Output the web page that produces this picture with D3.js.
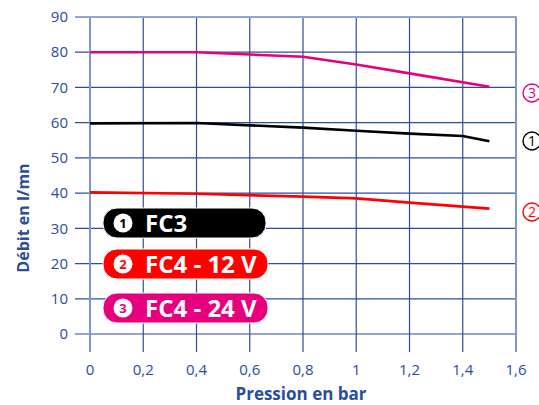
<!DOCTYPE html>
<html><head><meta charset="utf-8">
<script src="https://cdn.jsdelivr.net/npm/d3@7"></script>
<style>body{margin:0;background:#fff;} svg{display:block;font-family:"Open Sans","Noto Sans",sans-serif;}</style>
</head><body>
<script>
const xTicks = [0,0.2,0.4,0.6,0.8,1,1.2,1.4,1.6];
const yTicks = [0,10,20,30,40,50,60,70,80,90];
const seriesNames = ["FC3","FC4 - 12 V","FC4 - 24 V"];
const seriesMarks = ["1","2","3"];
const seriesColors = ["#000000","#FF0000","#E6007E"];
const fc3 = [[0,59.8],[0.4,59.9],[0.8,58.6],[1.0,57.7],[1.2,56.9],[1.4,56.2],[1.5,54.7]];
const fc4_12 = [[0,40.2],[0.4,39.8],[0.8,39.0],[1.0,38.5],[1.2,37.3],[1.5,35.6]];
const fc4_24 = [[0,80],[0.4,80],[0.8,78.7],[1.0,76.5],[1.2,74.0],[1.5,70.2]];
const seriesData = [fc3, fc4_12, fc4_24];

const W=539,H=405;
const blue="#2A4E9B";
const svg=d3.select("body").append("svg").attr("width",W).attr("height",H);
const x=d3.scaleLinear().domain([0,1.6]).range([90,516]);
const y=d3.scaleLinear().domain([0,90]).range([334,17]);

// grid
const g=svg.append("g");
g.selectAll("line.h").data(yTicks).join("line")
 .attr("x1",75).attr("x2",517).attr("y1",d=>y(d)).attr("y2",d=>y(d))
 .attr("stroke",blue).attr("stroke-width",1.2);
g.selectAll("line.v").data(xTicks).join("line")
 .attr("y1",y(90)+1).attr("y2",352).attr("x1",d=>x(d)).attr("x2",d=>x(d))
 .attr("stroke",(d,i)=>(i===0||i===xTicks.length-1)?"#7E97CC":blue)
 .attr("stroke-width",(d,i)=>(i===0||i===xTicks.length-1)?2:1.2);

// tick labels
svg.selectAll("text.yt").data(yTicks).join("text")
 .attr("x",68).attr("y",d=>y(d)).attr("dy","0.35em").attr("text-anchor","end")
 .attr("fill",blue).attr("font-size",15).text(d=>d);
svg.selectAll("text.xt").data(xTicks).join("text")
 .attr("x",d=>x(d)).attr("y",370).attr("dy","0.35em").attr("text-anchor","middle")
 .attr("fill",blue).attr("font-size",15).text(d=>String(d).replace(".",","));

// axis titles
svg.append("text").attr("x",301).attr("y",400).attr("text-anchor","middle")
 .attr("fill",blue).attr("font-weight","bold").attr("font-size",17).text("Pression en bar");
svg.append("text").attr("transform","translate(29,218) rotate(-90)").attr("text-anchor","middle")
 .attr("fill",blue).attr("font-weight","bold").attr("font-size",16).text("Débit en l/mn");

// lines
const line=d3.line().x(d=>x(d[0])).y(d=>y(d[1]));
svg.selectAll("path.s").data(seriesData).join("path")
 .attr("d",line).attr("fill","none").attr("stroke",(d,i)=>seriesColors[i]).attr("stroke-width",2.6);

// right end markers (circled numbers)
const mk=svg.selectAll("g.m").data(seriesData).join("g")
 .attr("transform",(d,i)=>`translate(532,${[141,212,93][i]})`);
mk.append("circle").attr("r",9).attr("fill","none").attr("stroke",(d,i)=>seriesColors[i]).attr("stroke-width",1.4);
mk.append("text").attr("y",0).attr("dy","0.36em").attr("text-anchor","middle")
 .attr("font-size",14).attr("fill",(d,i)=>seriesColors[i]).text((d,i)=>seriesMarks[i]);

// legend badges
const badgeY=[208,249,293], badgeW=[163,165,165];
const lg=svg.selectAll("g.b").data(seriesNames).join("g").attr("transform",(d,i)=>`translate(103,${badgeY[i]})`);
lg.append("rect").attr("width",(d,i)=>badgeW[i]).attr("height",30).attr("rx",14).attr("ry",14)
 .attr("fill",(d,i)=>seriesColors[i]).attr("stroke","#fff").attr("stroke-width",1);
lg.append("circle").attr("cx",20).attr("cy",15).attr("r",9.5).attr("fill","#fff");
lg.append("text").attr("x",20).attr("y",15).attr("dy","0.36em").attr("text-anchor","middle")
 .attr("font-weight","bold").attr("font-size",13).attr("fill",(d,i)=>seriesColors[i]).text((d,i)=>i+1);
lg.append("text").attr("x",42).attr("y",15).attr("dy","0.36em")
 .attr("font-weight","bold").attr("font-size",24).attr("fill","#fff").text(d=>d);
</script>
</body></html>
